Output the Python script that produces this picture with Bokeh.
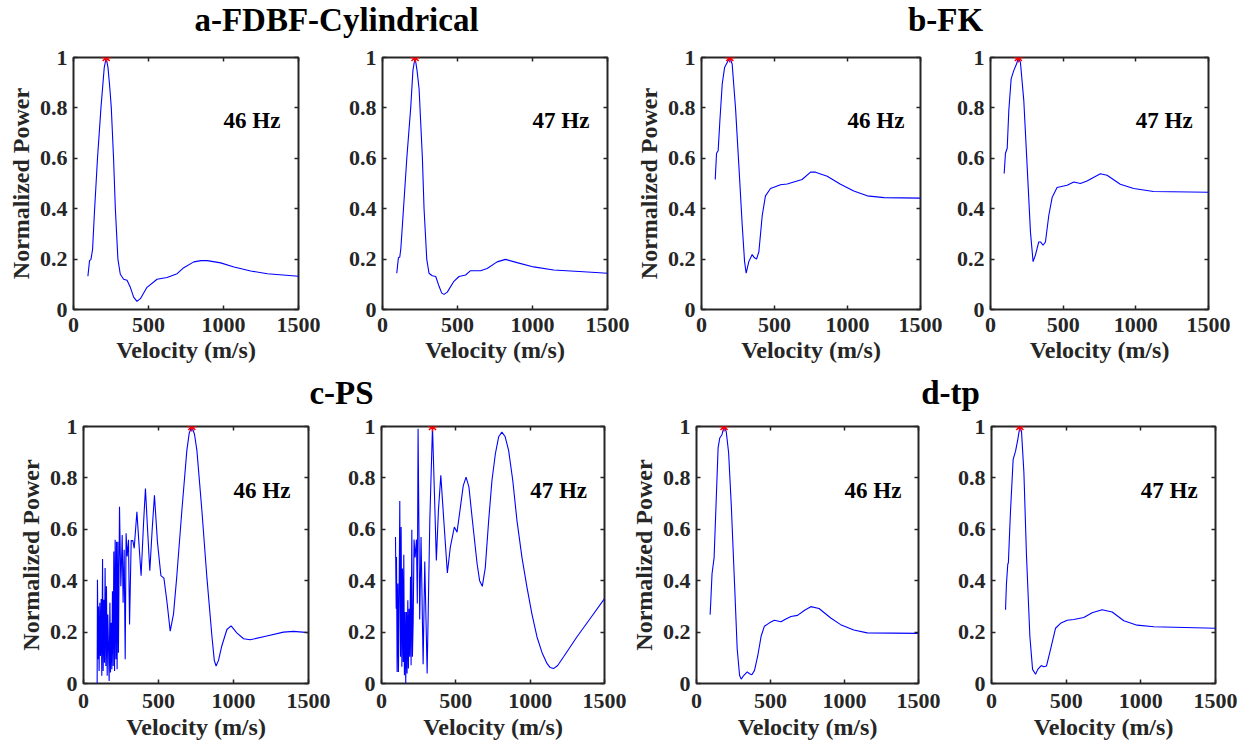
from bokeh.plotting import figure
from bokeh.layouts import column, row
from bokeh.models import Range1d, LinearAxis, FixedTicker, Label, CustomJSTickFormatter
from bokeh.embed import file_html
from bokeh.resources import INLINE

# ---------------- data ----------------
x_ticks = [0, 500, 1000, 1500]
y_ticks = [0, 0.2, 0.4, 0.6, 0.8, 1]
y_tick_labels = ["0", "0.2", "0.4", "0.6", "0.8", "1"]

titles = ["a-FDBF-Cylindrical", "b-FK", "c-PS", "d-tp"]
freqs = ["46 Hz", "47 Hz"]

# a-FDBF-Cylindrical
a46_v = [96, 107, 116, 127, 140, 160, 183, 205, 218, 230, 242, 252, 267, 279, 296, 312, 334, 357, 379, 401,
         423, 446, 490, 557, 624, 691, 735, 802, 850, 892, 981, 1070, 1181, 1293, 1500]
a46_p = [0.132, 0.194, 0.198, 0.237, 0.39, 0.60, 0.80, 0.96, 1.0, 0.96, 0.88, 0.80, 0.60, 0.40, 0.20, 0.14,
         0.12, 0.116, 0.088, 0.049, 0.032, 0.043, 0.088, 0.12, 0.127, 0.142, 0.166, 0.189, 0.194, 0.194,
         0.185, 0.169, 0.153, 0.142, 0.132]
a47_v = [95, 106, 115, 122, 140, 162, 188, 203, 217, 230, 244, 266, 277, 295, 310, 332, 355, 377, 395, 410,
         432, 476, 510, 554, 587, 654, 698, 764, 820, 897, 1008, 1141, 1340, 1500]
a47_p = [0.144, 0.205, 0.208, 0.24, 0.40, 0.60, 0.80, 0.95, 1.0, 0.95, 0.875, 0.60, 0.40, 0.20, 0.144, 0.134,
         0.131, 0.092, 0.065, 0.06, 0.069, 0.112, 0.131, 0.137, 0.154, 0.154, 0.163, 0.189, 0.199, 0.186,
         0.169, 0.157, 0.15, 0.144]

# b-FK
b46_v = [94, 103, 114, 126, 142, 158, 176, 194, 210, 233, 256, 279, 295, 306, 324, 347, 363, 377, 393, 416,
         438, 473, 541, 587, 632, 689, 747, 781, 861, 952, 1043, 1135, 1249, 1500]
b46_p = [0.516, 0.62, 0.63, 0.75, 0.895, 0.96, 0.98, 1.0, 0.974, 0.80, 0.57, 0.333, 0.19, 0.144, 0.19, 0.218,
         0.205, 0.20, 0.229, 0.373, 0.451, 0.48, 0.495, 0.498, 0.506, 0.516, 0.545, 0.545, 0.529, 0.497,
         0.47, 0.451, 0.444, 0.442]
b47_v = [94, 103, 115, 126, 142, 160, 179, 192, 206, 229, 252, 275, 293, 309, 332, 344, 362, 378, 401, 424,
         458, 504, 527, 573, 618, 664, 756, 802, 893, 985, 1122, 1500]
b47_p = [0.54, 0.62, 0.64, 0.79, 0.915, 0.948, 0.974, 1.0, 0.98, 0.83, 0.57, 0.307, 0.19, 0.216, 0.268, 0.268,
         0.255, 0.268, 0.373, 0.444, 0.484, 0.49, 0.493, 0.506, 0.5, 0.51, 0.539, 0.533, 0.497, 0.48, 0.468,
         0.465]

# c-PS
c46_v = [91, 93, 98, 100, 104, 109, 113, 118, 122, 127, 131, 136, 140, 144, 149, 153, 158, 162, 167, 171,
         176, 180, 184, 189, 193, 198, 202, 207, 211, 216, 220, 224, 229, 233, 240, 249, 258, 264, 271, 278,
         284, 291, 300, 307, 318, 329, 338, 356, 369, 384, 400, 413, 427, 442, 458, 473, 493, 516, 536, 556,
         578, 600, 622, 656, 689, 705, 722, 740, 756, 789, 822, 856, 872, 884, 900, 922, 956, 984, 1022, 1067,
         1111, 1222, 1333, 1400, 1500]
c46_p = [0.0, 0.404, 0.094, 0.30, 0.049, 0.314, 0.107, 0.329, 0.03, 0.484, 0.049, 0.326, 0.081, 0.449, 0.068,
         0.378, 0.03, 0.268, 0.133, 0.01, 0.314, 0.043, 0.236, 0.055, 0.359, 0.068, 0.514, 0.049, 0.559, 0.094,
         0.552, 0.055, 0.552, 0.12, 0.688, 0.378, 0.578, 0.314, 0.52, 0.094, 0.585, 0.494, 0.559, 0.23, 0.556,
         0.556, 0.526, 0.668, 0.55, 0.419, 0.62, 0.759, 0.60, 0.439, 0.60, 0.732, 0.55, 0.42, 0.41, 0.32,
         0.204, 0.27, 0.417, 0.675, 0.907, 0.975, 1.0, 0.97, 0.907, 0.675, 0.417, 0.185, 0.09, 0.068, 0.09,
         0.146, 0.21, 0.224, 0.197, 0.174, 0.17, 0.185, 0.2, 0.203, 0.198]
c47_v = [94, 99, 101, 105, 110, 114, 119, 123, 128, 132, 137, 141, 146, 150, 154, 159, 163, 168, 172, 177,
         181, 186, 190, 195, 199, 204, 208, 213, 219, 226, 235, 241, 246, 257, 266, 280, 291, 307, 325, 343,
         356, 369, 383, 399, 419, 443, 463, 490, 508, 531, 550, 569, 588, 609, 643, 660, 678, 698, 721, 743,
         766, 788, 810, 832, 855, 883, 911, 945, 978, 1012, 1046, 1080, 1113, 1135, 1157, 1185, 1225, 1314,
         1404, 1500]
c47_p = [0.57, 0.291, 0.492, 0.045, 0.389, 0.045, 0.392, 0.71, 0.104, 0.609, 0.065, 0.447, 0.084, 0.501, 0.032,
         0.278, 0.0, 0.278, 0.039, 0.324, 0.058, 0.291, 0.104, 0.415, 0.071, 0.598, 0.104, 0.24, 0.56, 0.49,
         0.56, 0.311, 0.991, 0.249, 0.57, 0.075, 0.475, 0.039, 0.635, 1.0, 0.74, 0.479, 0.674, 0.81, 0.635,
         0.43, 0.531, 0.609, 0.589, 0.687, 0.77, 0.803, 0.765, 0.648, 0.466, 0.40, 0.378, 0.45, 0.635, 0.79,
         0.894, 0.96, 0.978, 0.96, 0.907, 0.79, 0.635, 0.49, 0.376, 0.27, 0.181, 0.12, 0.078, 0.062, 0.058,
         0.07, 0.104, 0.181, 0.253, 0.33]

# d-tp
d46_v = [92, 96, 105, 119, 146, 157, 172, 186, 201, 217, 235, 257, 275, 291, 302, 320, 343, 358, 374, 392,
         414, 437, 459, 493, 526, 571, 604, 638, 683, 728, 772, 828, 907, 974, 1063, 1153, 1500]
d46_p = [0.268, 0.312, 0.427, 0.49, 0.917, 0.955, 0.968, 1.0, 0.98, 0.898, 0.694, 0.389, 0.134, 0.032, 0.017,
         0.032, 0.045, 0.038, 0.034, 0.051, 0.108, 0.185, 0.223, 0.236, 0.246, 0.24, 0.251, 0.261, 0.265,
         0.284, 0.299, 0.292, 0.255, 0.229, 0.208, 0.197, 0.195]
d47_v = [94, 100, 109, 113, 127, 145, 161, 176, 190, 201, 217, 234, 257, 275, 295, 310, 333, 350, 368, 395,
         429, 462, 507, 551, 618, 674, 741, 808, 886, 975, 1087, 1500]
d47_p = [0.287, 0.387, 0.464, 0.47, 0.668, 0.872, 0.904, 0.949, 1.0, 0.98, 0.82, 0.502, 0.183, 0.055, 0.036,
         0.055, 0.07, 0.065, 0.068, 0.132, 0.215, 0.234, 0.246, 0.249, 0.257, 0.275, 0.287, 0.278, 0.244,
         0.227, 0.221, 0.215]

# ---------------- styling ----------------
FONT = "Liberation Serif"
AX = "#262626"
TOTAL_W = 1244


def no_grid(p):
    p.xgrid.visible = False
    p.ygrid.visible = False


def make_panel(vel, pw, freq, w, h, bl, br, bt, bb, ylabel, xstand, xlstand):
    p = figure(width=w, height=h, x_range=Range1d(0, 1500), y_range=Range1d(0, 1),
               output_backend="svg", toolbar_location=None,
               x_axis_location=None, y_axis_location=None,
               min_border_left=bl, min_border_right=br, min_border_top=bt, min_border_bottom=bb)
    no_grid(p)
    p.outline_line_color = AX
    p.outline_line_width = 2
    p.background_fill_color = "white"
    p.border_fill_color = "white"

    xa = LinearAxis(ticker=FixedTicker(ticks=x_ticks), axis_label="Velocity (m/s)")
    ya = LinearAxis(ticker=FixedTicker(ticks=y_ticks),
                    major_label_overrides=dict(zip(y_ticks, y_tick_labels)),
                    axis_label=ylabel)
    ta = LinearAxis(ticker=FixedTicker(ticks=x_ticks), formatter=CustomJSTickFormatter(code="return ''"))
    ra = LinearAxis(ticker=FixedTicker(ticks=y_ticks), formatter=CustomJSTickFormatter(code="return ''"))
    for ax in (xa, ya, ta, ra):
        ax.axis_line_color = None
        ax.major_tick_in = 4
        ax.major_tick_out = 0
        ax.major_tick_line_color = AX
        ax.major_tick_line_width = 1.5
        ax.minor_tick_line_color = None
        ax.major_label_text_font = FONT
        ax.major_label_text_font_style = "bold"
        ax.major_label_text_font_size = "22px"
        ax.major_label_text_color = AX
        ax.axis_label_text_font = FONT
        ax.axis_label_text_font_style = "bold"
        ax.axis_label_text_font_size = "24px"
        ax.axis_label_text_color = AX
    for ax in (ta, ra):
        ax.major_label_standoff = 0
        ax.major_label_text_font_size = "0px"
    xa.major_label_standoff = xstand
    xa.axis_label_standoff = xlstand
    ya.major_label_standoff = 6
    ya.axis_label_standoff = 3
    p.add_layout(xa, "below")
    p.add_layout(ya, "left")
    p.add_layout(ta, "above")
    p.add_layout(ra, "right")

    p.line(vel, pw, line_color="#0000FF", line_width=1.1)
    i = max(range(len(pw)), key=lambda k: pw[k])
    p.scatter([vel[i]], [pw[i]], marker="asterisk", size=10, line_color="red", line_width=1.5)
    p.add_layout(Label(x=1000, y=0.75, text=freq, text_font=FONT, text_font_style="bold",
                       text_font_size="23px", text_color="black", text_baseline="middle",
                       text_align="left"))
    return p


def title_fig(h, items):
    t = figure(width=TOTAL_W, height=h, x_range=Range1d(0, TOTAL_W), y_range=Range1d(h, 0),
               output_backend="svg", toolbar_location=None,
               x_axis_location=None, y_axis_location=None, min_border=0)
    no_grid(t)
    t.outline_line_color = None
    t.background_fill_color = "white"
    t.border_fill_color = "white"
    for text, x, y in items:
        t.add_layout(Label(x=x, y=y, text=text, text_font=FONT, text_font_style="bold",
                           text_font_size="33px", text_color="black", text_align="center",
                           text_baseline="alphabetic"))
    return t


NP = "Normalized Power"
t1 = title_fig(39, [(titles[0], 336, 19), (titles[1], 945, 19)])
p1 = make_panel(a46_v, a46_p, freqs[0], 330, 334, 73, 32, 13, 64, NP, 8, 2)
p2 = make_panel(a47_v, a47_p, freqs[1], 302, 334, 52, 25, 13, 62, None, 8, 2)
p3 = make_panel(b46_v, b46_p, freqs[0], 313, 334, 69, 25, 18, 61, NP, 8, 2)
p4 = make_panel(b47_v, b47_p, freqs[1], 299, 334, 45, 36, 18, 61, None, 8, 2)

t2 = title_fig(40, [(titles[2], 341, 19), (titles[3], 950, 19)])
p5 = make_panel(c46_v, c46_p, freqs[0], 330, 336, 83, 22, 13, 65, NP, 10, 3)
p6 = make_panel(c47_v, c47_p, freqs[1], 297, 336, 51, 23, 13, 66, None, 10, 3)
p7 = make_panel(d46_v, d46_p, freqs[0], 318, 336, 68, 27, 13, 64, NP, 10, 3)
p8 = make_panel(d47_v, d47_p, freqs[1], 299, 336, 46, 29, 13, 66, None, 10, 3)

layout = column(t1, row(p1, p2, p3, p4), t2, row(p5, p6, p7, p8))

open("out.html", "w").write(file_html(layout, INLINE))
